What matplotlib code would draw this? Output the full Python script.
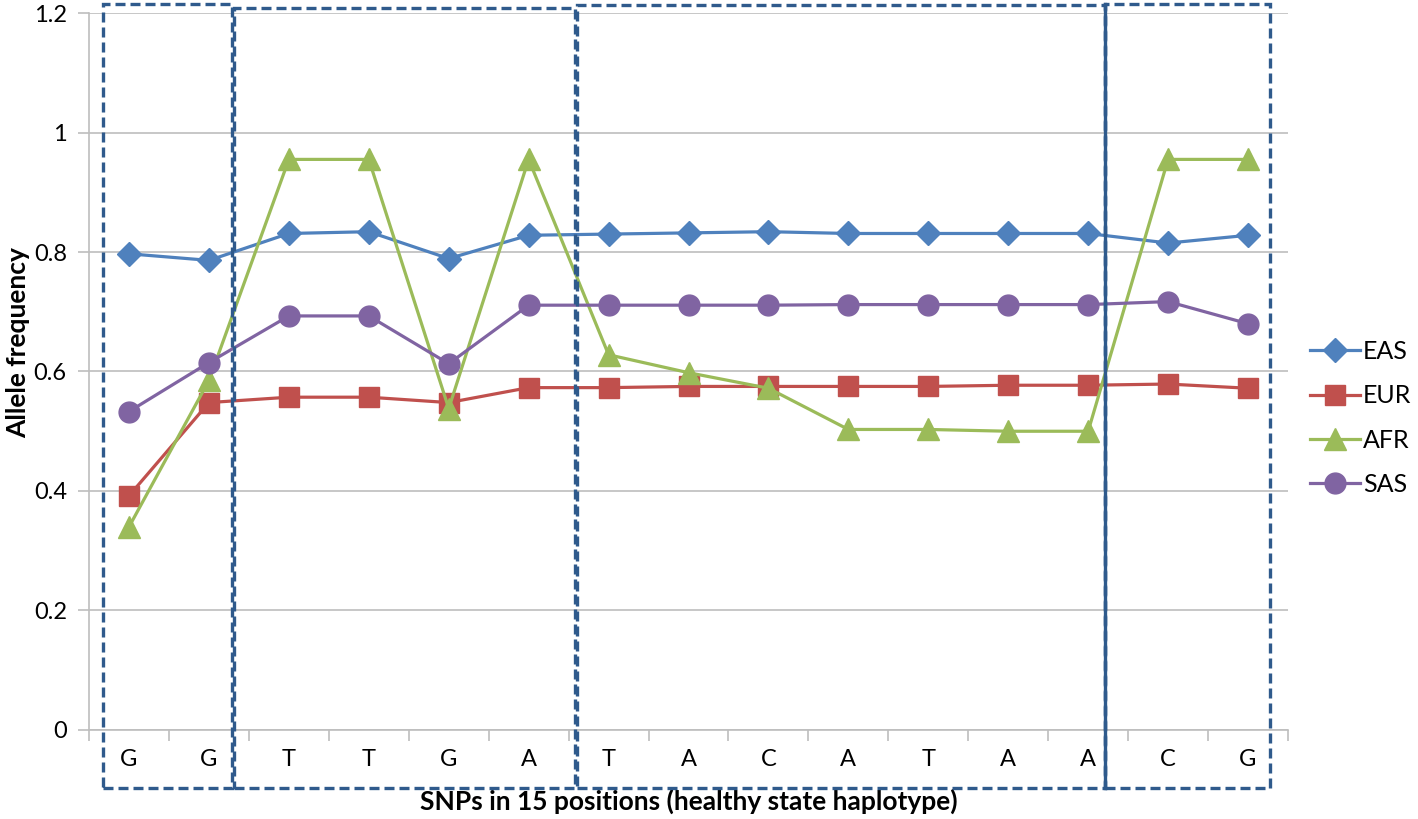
import numpy as np
import matplotlib
matplotlib.use("Agg")
import matplotlib.pyplot as plt
from matplotlib.patches import Rectangle

plt.rcParams['font.family'] = ['Lato', 'DejaVu Sans']

# SNP letters along the x axis
snps = ["G", "G", "T", "T", "G", "A", "T", "A", "C", "A", "T", "A", "A", "C", "G"]

eas = [0.797, 0.786, 0.831, 0.834, 0.789, 0.828, 0.830, 0.832, 0.834, 0.831, 0.831, 0.831, 0.831, 0.815, 0.828]
eur = [0.392, 0.548, 0.557, 0.557, 0.548, 0.573, 0.573, 0.575, 0.575, 0.575, 0.575, 0.577, 0.577, 0.579, 0.572]
afr = [0.340, 0.585, 0.955, 0.955, 0.538, 0.955, 0.628, 0.598, 0.572, 0.503, 0.503, 0.500, 0.500, 0.955, 0.955]
sas = [0.533, 0.615, 0.693, 0.693, 0.613, 0.711, 0.711, 0.711, 0.711, 0.712, 0.712, 0.712, 0.712, 0.717, 0.680]

# dashed boxes grouping positions: (x_left, x_right, top) in data units
boxes = [(-0.325, 1.29, 1.215), (1.31, 5.575, 1.2085), (5.6, 12.21, 1.2134), (12.21, 14.275, 1.215)]
box_bottom = -0.097
split_x = 12.21

fig = plt.figure(figsize=(14.18, 8.19), dpi=100)
ax = fig.add_axes([0.0628, 0.1087, 0.8455, 0.8754])

x = np.arange(len(snps))
series = [("EAS", eas, "#4F81BD", "D", 12),
          ("EUR", eur, "#C0504D", "s", 15),
          ("AFR", afr, "#9BBB59", "^", 16),
          ("SAS", sas, "#8064A2", "o", 15)]
for name, vals, col, mk, ms in series:
    ax.plot(x, vals, color=col, lw=2.3, marker=mk, markersize=ms, label=name, zorder=3)

ax.set_xlim(-0.5, len(snps) - 0.5)
ax.set_ylim(0, 1.2)
ax.set_yticks(np.arange(0, 1.21, 0.2))
ax.set_yticklabels(["0", "0.2", "0.4", "0.6", "0.8", "1", "1.2"])
ax.yaxis.grid(True, color="#BEBEBE", lw=1.2)
ax.set_axisbelow(True)

ax.set_xticks(np.arange(-0.5, len(snps), 1.0))
ax.set_xticklabels([])
ax.set_xticks(x, minor=True)
ax.set_xticklabels(snps, minor=True)
ax.tick_params(axis="x", which="major", length=8, color="#BEBEBE", width=1.2)
ax.tick_params(axis="x", which="minor", length=0, pad=14, labelsize=17)
ax.tick_params(axis="y", length=8, color="#BEBEBE", width=1.2, labelsize=17, pad=8)

for s in ["top", "right"]:
    ax.spines[s].set_visible(False)
for s in ["left", "bottom"]:
    ax.spines[s].set_color("#BEBEBE")
    ax.spines[s].set_linewidth(1.2)

boxcol = "#2F5A8C"
for x0, x1, top in boxes:
    r = Rectangle((x0, box_bottom), x1 - x0, top - box_bottom, fill=False,
                  edgecolor=boxcol, lw=2.4, ls=(0, (3, 1.5)), clip_on=False, zorder=4)
    ax.add_patch(r)
ax.plot([split_x, split_x], [box_bottom, 1.215], color=boxcol, lw=2.4,
        clip_on=False, zorder=5)

ax.set_ylabel("Allele frequency", fontsize=19, fontweight="bold")
ax.yaxis.set_label_coords(-0.049, 0.54)
ax.set_xlabel("SNPs in 15 positions (healthy state haplotype)", fontsize=19,
              fontweight="bold")
ax.xaxis.set_label_coords(0.5, -0.082)

ax.legend(loc="center left", bbox_to_anchor=(1.0, 0.435), frameon=False,
          fontsize=18, handlelength=2.0, handletextpad=0.1, labelspacing=0.85)

fig.savefig("out.png", dpi=100)
